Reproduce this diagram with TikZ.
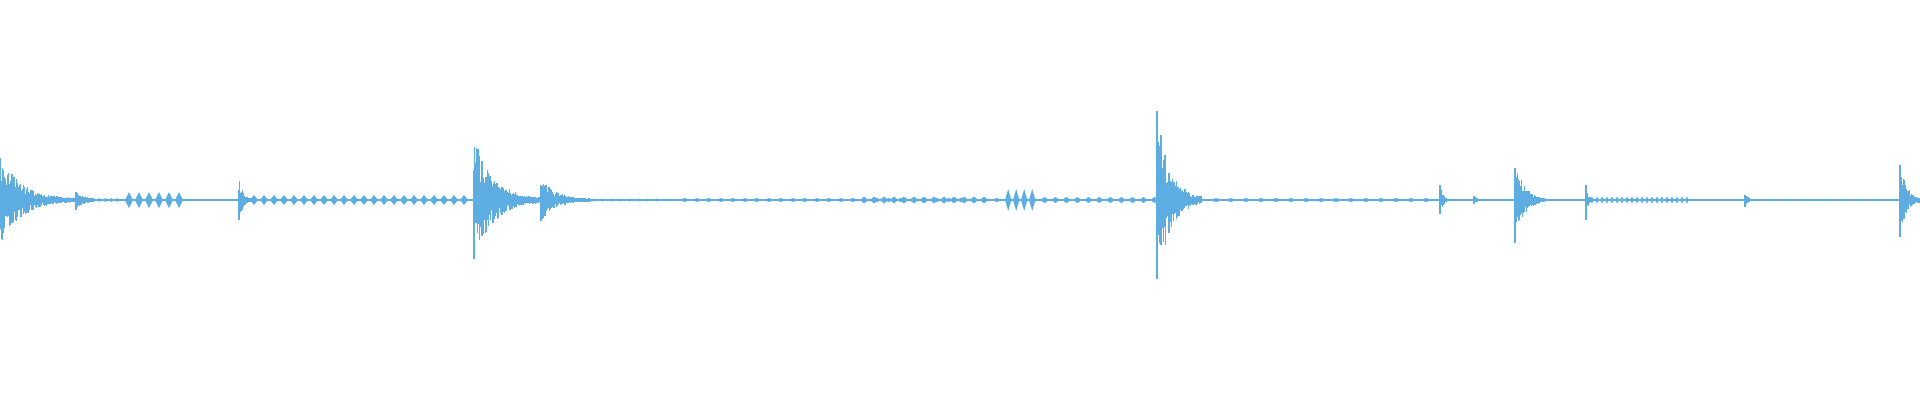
\documentclass[tikz,border=0pt]{standalone}
\usepackage{tikz}
\definecolor{wave}{HTML}{5DADE2}
\tikzset{
    trace/.style={draw=wave,line width=0.35pt},
    blob/.style={fill=wave,draw=none}
}
% burst: x, amplitude, decay length
\newcommand{\burst}[3]{%
  \foreach \i in {0,0.008,...,#3}{%
    \pgfmathsetmacro{\hu}{(#2)*exp(-3.5*\i/(#3))*(0.35+0.65*rnd)+0.01}
    \pgfmathsetmacro{\hd}{(#2)*exp(-3.5*\i/(#3))*(0.35+0.65*rnd)+0.01}
    \draw[trace] ({#1+\i},{2+\hu}) -- ({#1+\i},{2-\hd});
  }}
% row of small diamonds: start, end, spacing, amplitude
\newcommand{\blobs}[4]{%
  \pgfmathsetmacro{\bsecond}{#1+#3}
  \foreach \x in {#1,\bsecond,...,#2}{%
    \fill[blob] (\x,2) -- ({\x+#3*0.4},{2+#4}) -- ({\x+#3*0.8},2) -- ({\x+#3*0.4},{2-#4}) -- cycle;
  }}
\begin{document}
\begin{tikzpicture}
\pgfmathsetseed{7}
\useasboundingbox (0,0) rectangle (19.2,4);
% baseline
\draw[trace] (0,2) -- (19.2,2);
% quiet stretches
\blobs{0.85}{1.2}{0.06}{0.02}
\blobs{1.25}{1.84}{0.1}{0.08}
\blobs{2.5}{4.65}{0.1}{0.05}
\blobs{5.9}{6.6}{0.09}{0.015}
\blobs{6.8}{10.0}{0.12}{0.02}
\blobs{8.6}{9.9}{0.1}{0.035}
\blobs{10.05}{10.35}{0.08}{0.11}
\blobs{10.4}{11.5}{0.11}{0.03}
\blobs{12.1}{14.3}{0.15}{0.02}
\blobs{15.9}{16.9}{0.05}{0.035}
\blobs{17.5}{18.9}{0.15}{0.012}
% bursts
\burst{0}{0.45}{0.75}
\burst{0.76}{0.09}{0.25}
\burst{2.39}{0.22}{0.14}
\burst{4.74}{0.62}{0.68}
\burst{5.41}{0.22}{0.5}
\burst{11.57}{0.88}{0.45}
\burst{11.7}{0.25}{0.2}
\burst{14.40}{0.25}{0.07}
\burst{14.74}{0.07}{0.05}
\burst{15.15}{0.42}{0.3}
\burst{15.86}{0.28}{0.05}
\burst{17.45}{0.06}{0.1}
\burst{19.0}{0.48}{0.2}
\end{tikzpicture}
\end{document}
